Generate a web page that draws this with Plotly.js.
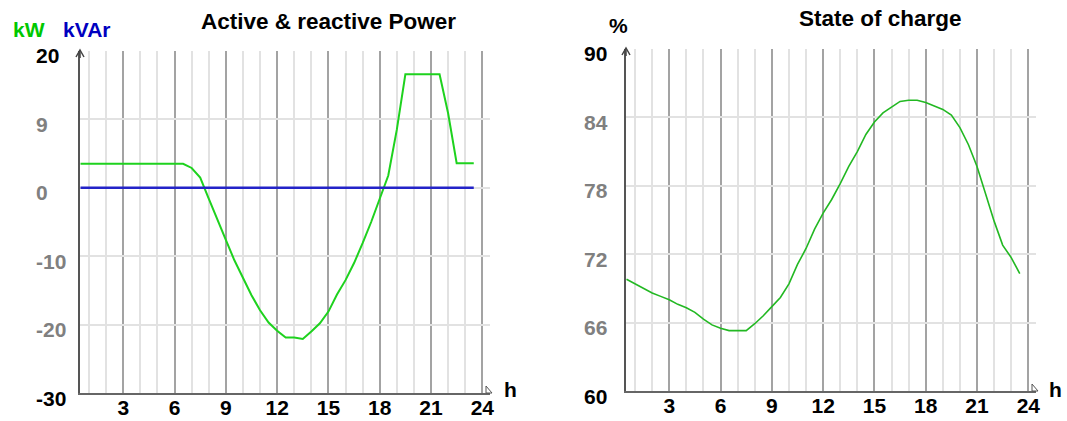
<!DOCTYPE html>
<html><head><meta charset="utf-8">
<script src="https://cdn.plot.ly/plotly-3.0.1.min.js"></script>
<style>html,body{margin:0;padding:0;background:#fff}</style>
</head><body><div id="chart" style="width:1067px;height:421px"></div>
<script>
// ---- data ----
const hours = [0.5,1,1.5,2,2.5,3,3.5,4,4.5,5,5.5,6,6.5,7,7.5,8,8.5,9,9.5,10,10.5,11,11.5,12,12.5,13,13.5,14,14.5,15,15.5,16,16.5,17,17.5,18,18.5,19,19.5,20,20.5,21,21.5,22,22.5,23,23.5];
const activePower = [3.5,3.5,3.5,3.5,3.5,3.5,3.5,3.5,3.5,3.5,3.5,3.5,3.5,2.9,1.5,-1.6,-4.5,-7.6,-10.6,-13.2,-15.7,-17.9,-19.7,-20.9,-21.9,-21.9,-22.1,-21.0,-19.8,-18.1,-15.6,-13.5,-11.0,-8.1,-5.0,-1.6,1.8,8.5,16.6,16.6,16.6,16.6,16.6,10.9,3.6,3.6,3.6];
const reactivePower = [0,0,0,0,0,0,0,0,0,0,0,0,0,0,0,0,0,0,0,0,0,0,0,0,0,0,0,0,0,0,0,0,0,0,0,0,0,0,0,0,0,0,0,0,0,0,0];
const stateOfCharge = [69.8,69.4,69.0,68.6,68.3,68.0,67.6,67.3,66.9,66.3,65.8,65.5,65.3,65.3,65.3,65.9,66.6,67.4,68.2,69.4,71.1,72.5,74.2,75.6,76.8,78.2,79.7,81.0,82.5,83.6,84.4,84.9,85.4,85.5,85.5,85.3,85.0,84.7,84.2,83.1,81.6,79.7,77.3,74.9,72.8,71.7,70.3];
const hourTickVals = [3,6,9,12,15,18,21,24];
const hourTickText = ['3','6','9','12','15','18','21','24'];
const powerTickVals = [-30,-20,-10,0,10,20];
const powerTickText = ['-30','-20','-10','0','9','20'];
const socTickVals = [60,66,72,78,84,90];
const socTickText = ['60','66','72','78','84','90'];
const powerTitle = 'Active & reactive Power';
const socTitle = 'State of charge';

// ---- layout helpers ----
const W = 1067, H = 421;
const px = v => v / W, py = v => 1 - v / H;
const FONT = 'Liberation Sans, Arial, sans-serif';
const GRAY = '#808080';
function pixPath(pts, close){
  return pts.map((p,i)=>(i?'L':'M')+px(p[0])+','+py(p[1])).join(' ')+(close?' Z':'');
}
function yTickLabels(vals, texts, yref, xPix){
  return vals.map((v,i)=>({
    text:texts[i], x:px(xPix), y:v, xref:'paper', yref:yref, showarrow:false,
    xanchor:'left', yanchor:'middle', yshift:-5,
    font:{family:FONT, size:21, weight:'bold', color:(i===0||i===vals.length-1)?'#000':GRAY}
  }));
}
function label(text, x, y, size, color){
  return {text:text, x:px(x), y:py(y), xref:'paper', yref:'paper', showarrow:false,
    xanchor:'center', yanchor:'middle', font:{family:FONT,size:size,color:color,weight:'bold'}};
}

const xBase = {
  range:[0.47,24.45], tickvals:hourTickVals, ticktext:hourTickText,
  showgrid:true, gridcolor:'#a3a3a3', gridwidth:2,
  minor:{tick0:0, dtick:1, showgrid:true, gridcolor:'#e2e2e2', gridwidth:2, ticks:''},
  showline:true, linecolor:'#666', linewidth:2, zeroline:false, ticks:'',
  ticklabelstandoff:-5,
  tickfont:{family:FONT, size:21, color:'#000', weight:'bold'}, fixedrange:true
};
const yBase = {
  showticklabels:false, showgrid:true, gridcolor:'#e2e2e2', gridwidth:2,
  showline:true, linecolor:'#555', linewidth:2, zeroline:false, ticks:'', fixedrange:true
};

const layout = {
  width:W, height:H, margin:{l:0,r:0,t:0,b:0}, paper_bgcolor:'#fff', plot_bgcolor:'#fff',
  showlegend:false, hovermode:false,
  xaxis:Object.assign({}, xBase, {domain:[px(80),px(490)], anchor:'y'}),
  yaxis:Object.assign({}, yBase, {domain:[py(393),py(51)], anchor:'x', range:[-30,20], tickvals:powerTickVals}),
  xaxis2:Object.assign({}, xBase, {domain:[px(626),px(1036)], anchor:'y2'}),
  yaxis2:Object.assign({}, yBase, {domain:[py(391),py(49)], anchor:'x2', range:[60,90], tickvals:socTickVals}),
  annotations:[
    label(powerTitle, 328, 22, 22.5, '#000'),
    label(socTitle, 880, 18, 22.5, '#000'),
    label('kW', 29, 29, 21, '#00c800'),
    label('kVAr', 86, 29, 21, '#0000c0'),
    label('%', 618, 26, 21, '#000'),
    label('h', 510, 389, 21, '#000'),
    label('h', 1055, 389, 21, '#000')
  ].concat(yTickLabels(powerTickVals, powerTickText, 'y', 34))
   .concat(yTickLabels(socTickVals, socTickText, 'y2', 582)),
  shapes:[
    {type:'path', xref:'paper', yref:'paper', path:pixPath([[76,57],[80,50],[84,57]]), line:{color:'#444',width:1.5}},
    {type:'path', xref:'paper', yref:'paper', path:pixPath([[80,50],[80,58]]), line:{color:'#444',width:1.5}},
    {type:'path', xref:'paper', yref:'paper', path:pixPath([[486,386],[492,393],[486,393]], true), line:{color:'#555',width:1}},
    {type:'path', xref:'paper', yref:'paper', path:pixPath([[622,55],[626,48],[630,55]]), line:{color:'#444',width:1.5}},
    {type:'path', xref:'paper', yref:'paper', path:pixPath([[626,48],[626,56]]), line:{color:'#444',width:1.5}},
    {type:'path', xref:'paper', yref:'paper', path:pixPath([[1032,384],[1038,391],[1032,391]], true), line:{color:'#555',width:1}}
  ]
};

const traces = [
  {x:hours, y:activePower, xaxis:'x', yaxis:'y', mode:'lines', line:{color:'#1ed21e', width:2}},
  {x:hours, y:reactivePower, xaxis:'x', yaxis:'y', mode:'lines', line:{color:'#2323c8', width:2.5}},
  {x:hours, y:stateOfCharge, xaxis:'x2', yaxis:'y2', mode:'lines', line:{color:'#22b822', width:1.6}}
];

Plotly.newPlot('chart', traces, layout, {staticPlot:true, displayModeBar:false});
</script>
</body></html>
